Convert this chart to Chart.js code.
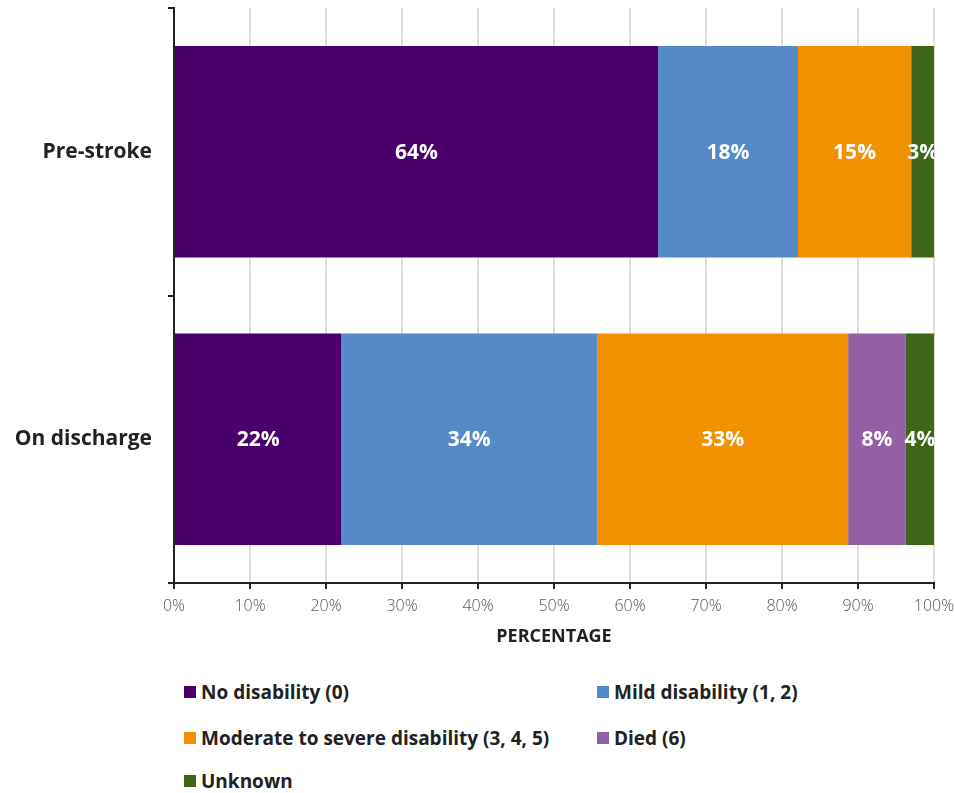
<!DOCTYPE html>
<html>
<head>
<meta charset="utf-8">
<script src="https://cdn.jsdelivr.net/npm/chart.js@4.4.0/dist/chart.umd.min.js"></script>
<style>
  body { margin: 0; background: #fff; font-family: "Open Sans", sans-serif; }
  #wrap { position: relative; width: 955px; height: 793px; }
  #legend { position: absolute; left: 184px; top: 680px; width: 760px; }
  .item { position: absolute; display: flex; align-items: center; font-weight: bold; font-size: 19px; line-height: 24px; color: #222; white-space: nowrap; }
  .box { width: 12px; height: 12px; margin-right: 5px; }
</style>
</head>
<body>
<div id="wrap">
  <canvas id="barChart" width="955" height="660"></canvas>
  <div id="legend"></div>
</div>
<script>
const categories = ['Pre-stroke', 'On discharge'];
const seriesNames = ['No disability (0)', 'Mild disability (1, 2)', 'Moderate to severe disability (3, 4, 5)', 'Died (6)', 'Unknown'];
const noDisability = [63.7, 22.0];
const mildDisability = [18.4, 33.7];
const moderateSevere = [14.9, 33.0];
const died = [0, 7.6];
const unknown = [3.0, 3.7];
const labelText = [['64%', '22%'], ['18%', '34%'], ['15%', '33%'], ['', '8%'], ['3%', '4%']];
const colors = ['#4a006c', '#5589c8', '#f29100', '#9460a5', '#3d6619'];
const xTicks = [0, 10, 20, 30, 40, 50, 60, 70, 80, 90, 100];

const allSeries = [noDisability, mildDisability, moderateSevere, died, unknown];

// white labels in the middle of each segment, clipped to the plot area
const segmentLabels = {
  id: 'segmentLabels',
  afterDatasetsDraw(chart) {
    const ctx = chart.ctx;
    const area = chart.chartArea;
    ctx.save();
    ctx.beginPath();
    ctx.rect(area.left, area.top, area.right - area.left, area.bottom - area.top);
    ctx.clip();
    ctx.fillStyle = '#fff';
    ctx.font = 'bold 21px "Open Sans"';
    ctx.textAlign = 'center';
    ctx.textBaseline = 'middle';
    chart.data.datasets.forEach((ds, i) => {
      chart.getDatasetMeta(i).data.forEach((bar, j) => {
        const txt = labelText[i][j];
        if (!txt) return;
        ctx.fillText(txt, (bar.x + bar.base) / 2, bar.y + 1);
      });
    });
    ctx.restore();
  }
};

const ctx = document.getElementById('barChart').getContext('2d');
const barChart = new Chart(ctx, {
  type: 'bar',
  data: {
    labels: categories,
    datasets: allSeries.map((vals, i) => ({
      label: seriesNames[i],
      data: vals,
      backgroundColor: colors[i],
      borderWidth: 0,
      barPercentage: 0.736,
      categoryPercentage: 1
    }))
  },
  options: {
    indexAxis: 'y',
    responsive: false,
    animation: false,
    layout: { padding: { top: 8, right: 21, left: 0, bottom: 0 } },
    plugins: {
      legend: { display: false },
      tooltip: { enabled: false }
    },
    scales: {
      x: {
        stacked: true,
        min: 0,
        max: 100,
        afterBuildTicks: s => { s.ticks = xTicks.map(v => ({ value: v })); },
        ticks: {
          callback: v => v + '%',
          color: '#555',
          font: { family: 'Open Sans', size: 16, weight: 300 },
          padding: 8,
          maxRotation: 0
        },
        grid: { color: '#dedede', lineWidth: 2, tickColor: '#222', tickLength: 6 },
        border: { color: '#222', width: 2 },
        title: {
          display: true,
          text: 'PERCENTAGE',
          color: '#222',
          font: { family: 'Open Sans', size: 18, weight: 'bold' },
          padding: { top: 4, bottom: 12 }
        },
        afterFit: s => { s.height = 77; s.paddingLeft = 0; s.paddingRight = 0; }
      },
      y: {
        stacked: true,
        grid: { drawOnChartArea: false, color: '#222', lineWidth: 2, tickLength: 6 },
        border: { color: '#222', width: 2 },
        ticks: {
          color: '#222',
          font: { family: 'Open Sans', size: 21, weight: 'bold' },
          padding: 16
        },
        afterFit: s => { s.width = 174; s.paddingTop = 0; s.paddingBottom = 0; }
      }
    }
  },
  plugins: [segmentLabels]
});

// legend in two columns, built from the datasets
const legend = document.getElementById('legend');
const slots = [[0, 0], [413, 0], [0, 46], [413, 46], [0, 89]];
barChart.data.datasets.forEach((ds, i) => {
  const el = document.createElement('div');
  el.className = 'item';
  el.style.left = slots[i][0] + 'px';
  el.style.top = slots[i][1] + 'px';
  el.innerHTML = '<span class="box" style="background:' + ds.backgroundColor + '"></span>' + ds.label;
  legend.appendChild(el);
});
</script>
</body>
</html>
